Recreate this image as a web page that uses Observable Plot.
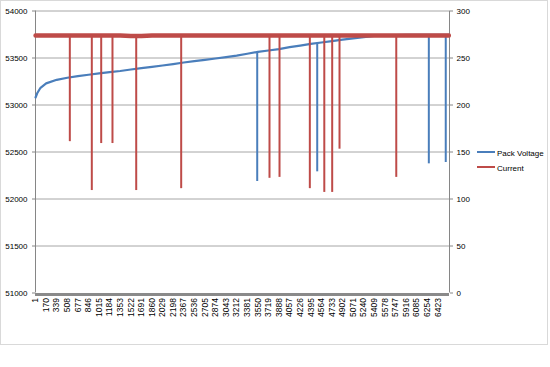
<!DOCTYPE html>
<html><head><meta charset="utf-8">
<script src="https://cdn.jsdelivr.net/npm/d3@7"></script>
<script src="https://cdn.jsdelivr.net/npm/@observablehq/plot@0.6"></script>
<style>
body{margin:0;background:#fff;}
#wrap{position:relative;width:550px;height:367px;font-family:"Liberation Sans",Arial,sans-serif;}
#border{position:absolute;left:0;top:0;width:546px;height:343px;border:1px solid #d9d9d9;}
#chart{position:absolute;left:0;top:0;}
.leg{position:absolute;left:477px;height:10px;font-size:8px;line-height:10px;color:#000;white-space:nowrap;}
.leg .sw{display:inline-block;width:18px;height:0;border-top:2px solid;vertical-align:middle;margin-right:2px;position:relative;top:-1px;}
</style></head>
<body><div id="wrap"><div id="border"></div><div id="chart"></div>
<div id="legend"></div></div>
<script>
// x-axis tick labels (sample index)
const labelIdx = [1,170,339,508,677,846,1015,1184,1353,1522,1691,1860,2029,2198,2367,2536,2705,2874,3043,3212,3381,3550,3719,3888,4057,4226,4395,4564,4733,4902,5071,5240,5409,5578,5747,5916,6085,6254,6423];
// left axis (Pack Voltage) ticks
const voltTicks = [51000,51500,52000,52500,53000,53500,54000];
const currentTicks = [0,50,100,150,200,250,300];

// Pack Voltage read at sample indices
const voltIndex = [1,27,80,170,339,508,677,846,1015,1184,1353,1522,1691,1860,2029,2198,2367,2536,2705,2874,3043,3212,3381,3550,3719,3888,4057,4226,4395,4564,4733,4902,5071,5240,5409,5578,5747,5916,6085,6254,6423,6600];
const voltValue = [53080,53125,53183,53230,53268,53290,53308,53322,53337,53350,53362,53378,53392,53406,53420,53435,53452,53466,53480,53495,53510,53525,53545,53565,53580,53595,53615,53632,53650,53665,53680,53695,53708,53722,53735,53742,53744,53745,53746,53746,53747,53747];
// Pack Voltage dips
const voltSpikeIndex = [3540,4498,6280,6550];
const voltSpikeTop = [53565,53660,53746,53747];
const voltSpikeLow = [52186,52289,52374,52388];

// Current baseline read at sample indices
const currentIndex = [1,170,339,508,677,846,1015,1184,1353,1522,1691,1860,2029,2198,2367,2536,2705,2874,3043,3212,3381,3550,3719,3888,4057,4226,4395,4564,4733,4902,5071,5240,5409,5578,5747,5916,6085,6254,6423,6600];
const currentValue = [274,274,274,274,274,274,274,274,274,273.5,273.5,274,274,274,274,274,274,274,274,274,274,274,274,274,274,274,274,274,274,274,274,274,274,274,274,274,274,274,274,274];
// Current dips
const currentSpikeIndex = [548,899,1049,1229,1608,2326,3736,3896,4380,4611,4737,4854,5760];
const currentSpikeLow = [161,109,159,159,109,111,122,123,111,107,107,153,123];
const currentSpikeTop = 274;

const seriesNames = ["Pack Voltage","Current"];
const blue = "#4a7ebb", red = "#be4b48";

// secondary axis mapped onto primary: 0..300 -> 51000..54000
const toLeft = c => 51000 + c * 10;

const voltData = voltIndex.map((i,k)=>({i, v: voltValue[k]}));
const voltSpikes = voltSpikeIndex.map((i,k)=>({i, top: voltSpikeTop[k], low: voltSpikeLow[k]}));
const curData = currentIndex.map((i,k)=>({i, c: currentValue[k]}));
const curSpikes = currentSpikeIndex.map((i,k)=>({i, low: currentSpikeLow[k]}));

const chart = Plot.plot({
  width: 550, height: 367,
  marginLeft: 35, marginRight: 101, marginTop: 10.5, marginBottom: 74.5,
  style: {fontFamily: '"Liberation Sans", Arial, sans-serif', fontSize: "8px", background: "transparent", color: "#000", overflow: "visible"},
  x: {domain: [0, 6610], label: null},
  y: {domain: [51000, 54000], label: null},
  marks: [
    Plot.ruleY(voltTicks.slice(1), {stroke: "#a6a6a6", strokeWidth: 1}),
    Plot.ruleX([0, 6610], {stroke: "#868686", strokeWidth: 1}),
    Plot.axisY({anchor: "left", ticks: voltTicks, tickSize: 3, tickPadding: 5, tickFormat: d => String(d), stroke: "#868686", label: null}),
    Plot.axisY({anchor: "right", ticks: currentTicks.map(toLeft), tickSize: 3, tickPadding: 4, tickFormat: d => String((d - 51000) / 10), stroke: "#868686", label: null}),
    Plot.axisX({ticks: labelIdx, tickRotate: -90, tickSize: 0, tickPadding: 5, tickFormat: d => String(d), fontSize: 8.5, label: null}),
    Plot.line(voltData, {x: "i", y: "v", stroke: blue, strokeWidth: 2.2}),
    Plot.ruleX(voltSpikes, {x: "i", y1: "low", y2: "top", stroke: blue, strokeWidth: 2}),
    Plot.line(curData, {x: "i", y: d => toLeft(d.c), stroke: red, strokeWidth: 4.5}),
    Plot.ruleX(curSpikes, {x: "i", y1: d => toLeft(d.low), y2: () => toLeft(currentSpikeTop), stroke: red, strokeWidth: 2}),
    Plot.ruleY([51000], {stroke: "#8a8a8a", strokeWidth: 3, dy: 1.5})
  ]
});
document.getElementById("chart").appendChild(chart);

const leg = document.getElementById("legend");
[[seriesNames[0], blue, 148.5],[seriesNames[1], red, 163.5]].forEach(([name,col,top])=>{
  const d = document.createElement("div");
  d.className = "leg";
  d.style.top = top + "px";
  d.innerHTML = `<span class="sw" style="border-color:${col}"></span>${name}`;
  leg.appendChild(d);
});
</script>
</body></html>
